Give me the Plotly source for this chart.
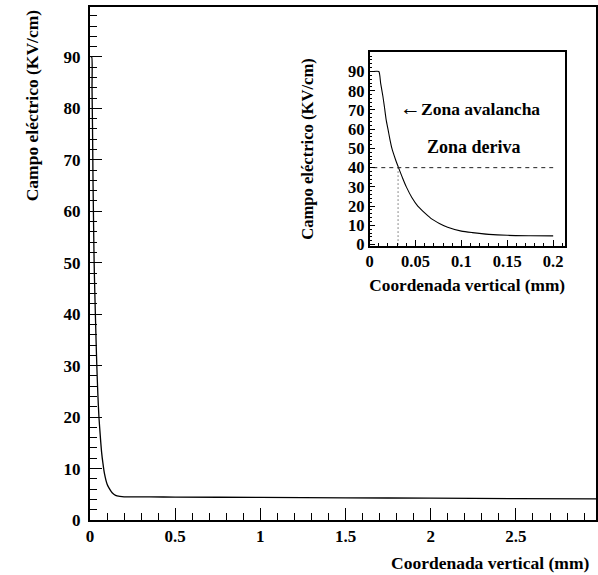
import plotly.graph_objects as go

# Data
coord_mm = [0.004, 0.01, 0.012, 0.0145, 0.0163, 0.018, 0.02, 0.022, 0.0243, 0.028,
            0.0315, 0.036, 0.04, 0.046, 0.0525, 0.06, 0.068, 0.076, 0.085, 0.1,
            0.112, 0.13, 0.15, 0.175, 0.2, 0.25, 0.35, 0.5,
            1.0, 1.5, 2.0, 2.5, 3.0]
campo_kv_cm = [90, 90, 84, 77, 71, 65, 60, 55, 50, 44.5,
               40, 34.5, 30, 24.5, 20, 16.5, 13.2, 11, 9, 7.0,
               6.2, 5.3, 4.8, 4.6, 4.5, 4.5, 4.5, 4.45,
               4.4, 4.3, 4.25, 4.15, 4.1]

inset_x = [x for x in coord_mm if x <= 0.2]
inset_y = [y for x, y in zip(coord_mm, campo_kv_cm) if x <= 0.2]

threshold_field = 40
threshold_x = 0.031
deriva_x = [0.004, 0.2]

main_x_ticks = [0, 0.5, 1, 1.5, 2, 2.5]
main_x_labels = ["0", "0.5", "1", "1.5", "2", "2.5"]
main_y_ticks = [0, 10, 20, 30, 40, 50, 60, 70, 80, 90]
inset_x_ticks = [0, 0.05, 0.1, 0.15, 0.2]
inset_x_labels = ["0", "0.05", "0.1", "0.15", "0.2"]

FONT = "Liberation Serif, DejaVu Serif, Times New Roman, serif"

fig = go.Figure()
fig.add_trace(go.Scatter(x=coord_mm, y=campo_kv_cm, mode="lines",
                         line=dict(color="black", width=1.3, shape="spline", smoothing=0.6),
                         showlegend=False, xaxis="x", yaxis="y"))
fig.add_trace(go.Scatter(x=inset_x, y=inset_y, mode="lines",
                         line=dict(color="black", width=1.1, shape="spline", smoothing=0.6),
                         showlegend=False, xaxis="x2", yaxis="y2"))
fig.add_trace(go.Scatter(x=deriva_x, y=[threshold_field, threshold_field], mode="lines",
                         line=dict(color="#222", width=1, dash="4px,4px"), showlegend=False,
                         xaxis="x2", yaxis="y2"))
fig.add_trace(go.Scatter(x=[threshold_x, threshold_x], y=[0, threshold_field], mode="lines",
                         line=dict(color="#222", width=1, dash="1px,3px"), showlegend=False,
                         xaxis="x2", yaxis="y2"))

tickfont = dict(family=FONT, size=17, color="black", weight="bold")
inset_tickfont = dict(family=FONT, size=16.5, color="black", weight="bold")

fig.update_layout(
    width=598, height=575,
    margin=dict(l=90, r=0, t=7, b=55),
    paper_bgcolor="white", plot_bgcolor="white",
    font=dict(family=FONT, color="black"),
    xaxis=dict(domain=[0, 1], range=[0, 2.97], tickvals=main_x_ticks, ticktext=main_x_labels,
               ticks="inside", ticklen=12, tickwidth=1, tickcolor="black",
               minor=dict(dtick=0.1, ticks="inside", ticklen=7, tickcolor="black"),
               showline=True, linecolor="black", linewidth=2, mirror=True,
               showgrid=False, zeroline=False, tickfont=tickfont),
    yaxis=dict(domain=[0, 1], range=[0, 99.7], tickvals=main_y_ticks,
               ticks="inside", ticklen=12, tickwidth=1, tickcolor="black",
               minor=dict(dtick=2, ticks="inside", ticklen=7, tickcolor="black"),
               showline=True, linecolor="black", linewidth=2, mirror=True,
               showgrid=False, zeroline=False, tickfont=tickfont, ticklabelstandoff=4),
    xaxis2=dict(domain=[0.5526, 0.9384], anchor="y2", range=[0, 0.2127],
                tickvals=inset_x_ticks, ticktext=inset_x_labels,
                ticks="inside", ticklen=6, tickwidth=1, tickcolor="black",
                minor=dict(dtick=0.01, ticks="inside", ticklen=3, tickcolor="black"),
                showline=True, linecolor="black", linewidth=1.5, mirror=True,
                showgrid=False, zeroline=False, tickfont=inset_tickfont,
                title=dict(text="Coordenada vertical (mm)",
                           font=dict(family=FONT, size=17.3, color="black", weight="bold"),
                           standoff=9)),
    yaxis2=dict(domain=[0.5347, 0.9117], anchor="x2", range=[-0.6, 100],
                tickvals=main_y_ticks,
                ticks="inside", ticklen=6, tickwidth=1, tickcolor="black",
                minor=dict(dtick=2, ticks="inside", ticklen=3, tickcolor="black"),
                showline=True, linecolor="black", linewidth=1.5, mirror=True,
                showgrid=False, zeroline=False, tickfont=inset_tickfont,
                title=dict(text="Campo eléctrico (KV/cm)",
                           font=dict(family=FONT, size=16.6, color="black", weight="bold"),
                           standoff=30)),
)

annotations = [
    dict(text="Campo eléctrico (KV/cm)", xref="paper", yref="paper",
         x=-0.114, y=1.0, xanchor="center", yanchor="top", textangle=-90,
         showarrow=False, font=dict(family=FONT, size=17.5, color="black", weight="bold")),
    dict(text="Coordenada vertical (mm)", xref="paper", yref="paper",
         x=0.99, y=-0.083, xanchor="right", yanchor="middle",
         showarrow=False, font=dict(family=FONT, size=17.5, color="black", weight="bold")),
    dict(text="<span style='font-size:21px'>←</span>Zona avalancha", xref="x2", yref="y2",
         x=0.031, y=71, xanchor="left", yanchor="middle",
         showarrow=False, font=dict(family=FONT, size=17.5, color="black", weight="bold")),
    dict(text="Zona deriva", xref="x2", yref="y2",
         x=0.114, y=50.5, xanchor="center", yanchor="middle",
         showarrow=False, font=dict(family=FONT, size=18, color="black", weight="bold")),
]
fig.update_layout(annotations=annotations)

fig.write_html("out.html")
